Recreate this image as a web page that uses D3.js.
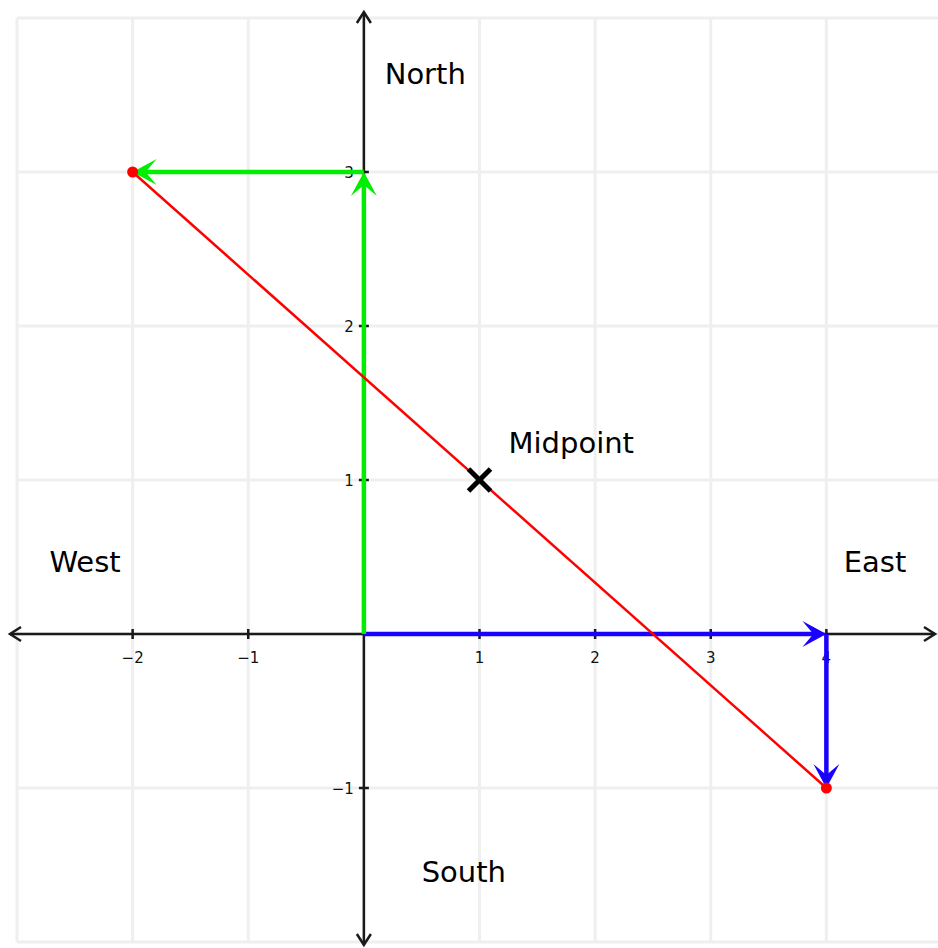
<!DOCTYPE html>
<html><head><meta charset="utf-8">
<script src="https://cdn.jsdelivr.net/npm/d3@7"></script>
<style>body{margin:0;background:#fff}svg{display:block}</style>
</head><body><div id="chart"></div>
<script>
const xTicks = [-2, -1, 1, 2, 3, 4];
const yTicks = [-1, 1, 2, 3];
const gridX = [-3, -2, -1, 0, 1, 2, 3, 4, 5];
const gridY = [-2, -1, 0, 1, 2, 3, 4];
const greenVectors = [{x1: 0, y1: 0, x2: 0, y2: 3}, {x1: 0, y1: 3, x2: -2, y2: 3}];
const blueVectors = [{x1: 0, y1: 0, x2: 4, y2: 0}, {x1: 4, y1: 0, x2: 4, y2: -1}];
const endpoints = [{x: -2, y: 3}, {x: 4, y: -1}];
const midpoint = {x: 1, y: 1, label: "Midpoint"};
const directionLabels = [
  {text: "North", x: 0.18, y: 3.57},
  {text: "South", x: 0.5, y: -1.61},
  {text: "West", x: -2.72, y: 0.4},
  {text: "East", x: 4.15, y: 0.4}
];

const W = 938, H = 948;
const x = d3.scaleLinear().domain([-3, 5]).range([17, 942]);
const y = d3.scaleLinear().domain([-2, 4]).range([942, 18]);

const svg = d3.select("#chart").append("svg").attr("width", W).attr("height", H);

// grid
svg.append("g").selectAll("line").data(gridX).join("line")
  .attr("x1", d => x(d)).attr("x2", d => x(d)).attr("y1", y(4)).attr("y2", y(-2))
  .attr("stroke", "#efefef").attr("stroke-width", 3);
svg.append("g").selectAll("line").data(gridY).join("line")
  .attr("y1", d => y(d)).attr("y2", d => y(d)).attr("x1", x(-3)).attr("x2", W)
  .attr("stroke", "#efefef").attr("stroke-width", 3);

function chevron(g, tx, ty, angle, color, len, hw, notch) {
  const p = `M0,0 L${-len},${-hw} L${-len + notch},0 L${-len},${hw} Z`;
  g.append("path").attr("d", p).attr("fill", color)
    .attr("transform", `translate(${tx},${ty}) rotate(${angle * 180 / Math.PI})`);
}
function openArrow(g, tx, ty, angle, color) {
  const p = "M-11,-7 L0,0 L-11,7";
  g.append("path").attr("d", p).attr("fill", "none").attr("stroke", color).attr("stroke-width", 2.5)
    .attr("transform", `translate(${tx},${ty}) rotate(${angle * 180 / Math.PI})`);
}

// axes
const ax = svg.append("g");
ax.append("line").attr("x1", 10).attr("x2", 935).attr("y1", y(0)).attr("y2", y(0))
  .attr("stroke", "#1a1a1a").attr("stroke-width", 2.5);
ax.append("line").attr("y1", 12).attr("y2", 945).attr("x1", x(0)).attr("x2", x(0))
  .attr("stroke", "#1a1a1a").attr("stroke-width", 2.5);
openArrow(ax, 10, y(0), Math.PI, "#1a1a1a");
openArrow(ax, 935, y(0), 0, "#1a1a1a");
openArrow(ax, x(0), 12, -Math.PI / 2, "#1a1a1a");
openArrow(ax, x(0), 945, Math.PI / 2, "#1a1a1a");

ax.selectAll(".xt").data(xTicks).join("line").attr("class", "xt")
  .attr("x1", d => x(d)).attr("x2", d => x(d)).attr("y1", y(0) - 5).attr("y2", y(0) + 5)
  .attr("stroke", "#1a1a1a").attr("stroke-width", 2.5);
ax.selectAll(".yt").data(yTicks).join("line").attr("class", "yt")
  .attr("y1", d => y(d)).attr("y2", d => y(d)).attr("x1", x(0) - 5).attr("x2", x(0) + 5)
  .attr("stroke", "#1a1a1a").attr("stroke-width", 2.5);

const fmt = d => d < 0 ? "\u2212" + Math.abs(d) : String(d);
ax.selectAll(".xl").data(xTicks).join("text").attr("class", "xl")
  .attr("x", d => x(d)).attr("y", y(0) + 29).attr("text-anchor", "middle")
  .attr("font-family", "DejaVu Sans, sans-serif").attr("font-size", 15).attr("fill", "#111")
  .text(fmt);
ax.selectAll(".yl").data(yTicks).join("text").attr("class", "yl")
  .attr("x", x(0) - 10).attr("y", d => y(d) + 6).attr("text-anchor", "end")
  .attr("font-family", "DejaVu Sans, sans-serif").attr("font-size", 15).attr("fill", "#111")
  .text(fmt);

// vectors
function drawVectors(data, color) {
  const g = svg.append("g");
  data.forEach(v => {
    const x1 = x(v.x1), y1 = y(v.y1), x2 = x(v.x2), y2 = y(v.y2);
    const a = Math.atan2(y2 - y1, x2 - x1);
    g.append("line").attr("x1", x1).attr("y1", y1)
      .attr("x2", x2 - Math.cos(a) * 12).attr("y2", y2 - Math.sin(a) * 12)
      .attr("stroke", color).attr("stroke-width", 4.5);
    chevron(g, x2, y2, a, color, 24, 13, 11);
  });
}
drawVectors(blueVectors, "#1a00ff");
drawVectors(greenVectors, "#00ee00");

// red line
svg.append("line")
  .attr("x1", x(endpoints[0].x)).attr("y1", y(endpoints[0].y))
  .attr("x2", x(endpoints[1].x)).attr("y2", y(endpoints[1].y))
  .attr("stroke", "#ff0000").attr("stroke-width", 2.5);
svg.selectAll(".ep").data(endpoints).join("circle").attr("class", "ep")
  .attr("cx", d => x(d.x)).attr("cy", d => y(d.y)).attr("r", 5.5).attr("fill", "#ff0000");

// midpoint X
const mx = x(midpoint.x), my = y(midpoint.y), s = 11;
svg.append("path").attr("d", `M${mx - s},${my - s}L${mx + s},${my + s}M${mx - s},${my + s}L${mx + s},${my - s}`)
  .attr("stroke", "#000").attr("stroke-width", 5);
svg.append("text").attr("x", mx + 29).attr("y", my - 27)
  .attr("font-family", "DejaVu Sans, sans-serif").attr("font-size", 29).attr("fill", "#000")
  .text(midpoint.label);

svg.selectAll(".dl").data(directionLabels).join("text").attr("class", "dl")
  .attr("x", d => x(d.x)).attr("y", d => y(d.y))
  .attr("font-family", "DejaVu Sans, sans-serif").attr("font-size", 29).attr("fill", "#000")
  .text(d => d.text);
</script></body></html>
